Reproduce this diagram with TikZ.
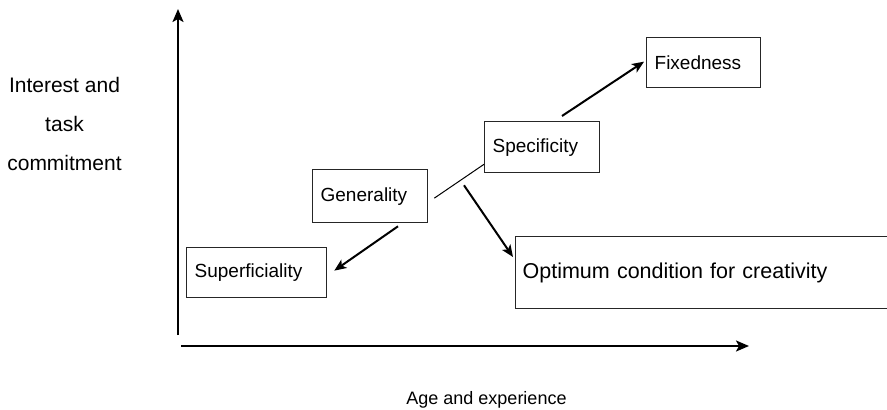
\documentclass[tikz,border=0pt]{standalone}
\usepackage{fontspec}
\setmainfont{Liberation Sans}
\usetikzlibrary{arrows.meta,calc}

\tikzset{
  stage/.style={draw=black!85, line width=1.3pt, rectangle, inner xsep=8pt,
    align=left, anchor=north west, font=\fontsize{19}{22}\selectfont},
  axis/.style={line width=2pt, -{Stealth[length=13pt,width=11pt,inset=3pt]}},
  flow/.style={line width=2pt, -{Stealth[length=12pt,width=10pt,inset=3pt]}},
  link/.style={line width=1pt},
  axlabel/.style={align=center}
}

\begin{document}
\begin{tikzpicture}[x=1pt,y=-1pt]
\useasboundingbox (0,0) rectangle (887,410);
\clip (0,0) rectangle (887,410);

% axes
\coordinate (origin-v) at (178,335);
\coordinate (top-v) at (178,9);
\coordinate (origin-h) at (181,346);
\coordinate (end-h) at (749,346);
\draw[axis] (origin-v) -- (top-v);
\draw[axis] (origin-h) -- (end-h);

% axis labels (base anchor sits on the last line)
\node[axlabel, font=\fontsize{21}{39}\selectfont, anchor=base] (ylab) at (64.5,170)
  {Interest and\\task\\commitment};
\node[font=\fontsize{18}{21}\selectfont, anchor=base] (xlab) at (486.5,404) {Age and experience};

% stages
\node[stage, minimum width=140pt, minimum height=50pt, text width=124pt] (sup) at (186,247) {Superficiality};
\node[stage, minimum width=115pt, minimum height=53pt, text width=99pt] (gen) at (312,169) {Generality};
\node[stage, minimum width=115pt, minimum height=51pt, text width=99pt] (spec) at (484,121) {Specificity};
\node[stage, minimum width=114pt, minimum height=50pt, text width=98pt] (fix) at (646,37) {Fixedness};
\node[stage, inner xsep=7pt, minimum width=390pt, minimum height=72pt, text width=376pt,
      font=\fontsize{21.5}{25}\selectfont] (opt) at (515,236) {\raisebox{-5pt}{Optimum condition for creativity}};

% connections between stages
\draw[flow] ([xshift=86pt,yshift=-3pt]gen.south west) -- ([xshift=7pt,yshift=2pt]sup.east);
\draw[link] ([xshift=6pt,yshift=-2pt]gen.east) -- ([yshift=9pt]spec.south west);
\draw[flow] ([xshift=-20pt,yshift=-12pt]spec.south west) -- ([xshift=-2pt,yshift=-21pt]opt.north west);
\draw[flow] ([xshift=78pt,yshift=5pt]spec.north west) -- ([xshift=-2pt,yshift=1pt]fix.west);
\end{tikzpicture}
\end{document}
